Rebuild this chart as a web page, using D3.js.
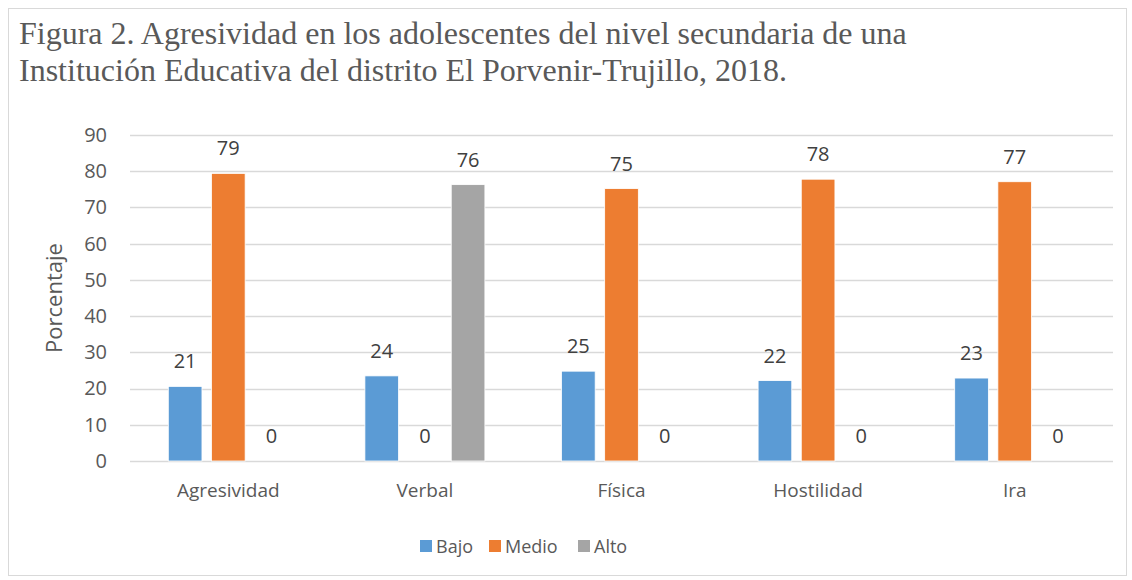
<!DOCTYPE html>
<html>
<head>
<meta charset="utf-8">
<script src="https://cdnjs.cloudflare.com/ajax/libs/d3/7.8.5/d3.min.js"></script>
<style>
  body { margin: 0; background: #fff; }
  text { font-family: "Open Sans", "Noto Sans", sans-serif; fill: #595959; }
</style>
</head>
<body>
<div id="chart"></div>
<script>
// chart data
var categories = ["Agresividad", "Verbal", "Física", "Hostilidad", "Ira"];
var seriesNames = ["Bajo", "Medio", "Alto"];
var bajo = [20.6, 23.5, 24.8, 22.2, 22.9];
var medio = [79.4, 0, 75.2, 77.8, 77.1];
var alto = [0, 76.3, 0, 0, 0];
var yTicks = [0, 10, 20, 30, 40, 50, 60, 70, 80, 90];
var colors = ["#5b9bd5", "#ed7d31", "#a5a5a5"];

var svgWidth = 1132;
var svgHeight = 580;

var margin = { top: 135, right: 19, bottom: 119, left: 130 };
var width = svgWidth - margin.left - margin.right;
var height = svgHeight - margin.top - margin.bottom;

var svg = d3.select("#chart")
  .append("svg")
  .attr("width", svgWidth)
  .attr("height", svgHeight);

// outer frame
svg.append("rect")
  .attr("x", 8.5).attr("y", 8.5)
  .attr("width", svgWidth - 14).attr("height", svgHeight - 13)
  .attr("fill", "#fff")
  .attr("stroke", "#d9d9d9");

// title
var title = svg.append("text")
  .style("font-family", "'Liberation Serif', 'Times New Roman', serif")
  .attr("font-size", 32);
title.append("tspan").attr("x", 19).attr("y", 44)
  .text("Figura 2. Agresividad en los adolescentes del nivel secundaria de una");
title.append("tspan").attr("x", 19).attr("y", 81)
  .text("Institución Educativa del distrito El Porvenir-Trujillo, 2018.");

var chartGroup = svg.append("g")
  .attr("transform", `translate(${margin.left}, ${margin.top})`);

// scales
var x0 = d3.scaleBand()
  .domain(categories)
  .range([0, width]);

var x1 = d3.scaleBand()
  .domain(seriesNames)
  .range([0, 120])
  .paddingInner(0.22);

var yLinearScale = d3.scaleLinear()
  .domain([0, 90])
  .range([height, 0]);

// gridlines
chartGroup.append("g")
  .selectAll("line")
  .data(yTicks)
  .enter()
  .append("line")
  .attr("x1", 0)
  .attr("x2", width)
  .attr("y1", d => Math.round(yLinearScale(d)) + 0.5)
  .attr("y2", d => Math.round(yLinearScale(d)) + 0.5)
  .attr("stroke", "#d9d9d9")
  .attr("stroke-width", 1.3);

// y axis labels
var leftAxis = d3.axisLeft(yLinearScale).tickValues(yTicks).tickSize(0).tickPadding(23);
var yAxis = chartGroup.append("g").call(leftAxis);
yAxis.select(".domain").remove();
yAxis.selectAll("text")
  .attr("font-size", 20)
  .attr("fill", "#595959")
  .style("font-family", "'Open Sans', sans-serif");

// x axis labels
var bottomAxis = d3.axisBottom(x0).tickSize(0).tickPadding(23);
var xAxis = chartGroup.append("g")
  .attr("transform", `translate(0, ${height})`)
  .call(bottomAxis);
xAxis.select(".domain").remove();
xAxis.selectAll("text")
  .attr("font-size", 19)
  .attr("fill", "#595959")
  .style("font-family", "'Open Sans', sans-serif");

// bars
var allSeries = [bajo, medio, alto];
var rows = [];
categories.forEach(function(cat, i) {
  seriesNames.forEach(function(s, j) {
    rows.push({ cat: cat, series: s, value: allSeries[j][i], color: colors[j] });
  });
});

var groupOffset = (x0.bandwidth() - 120) / 2;

chartGroup.selectAll(".bar")
  .data(rows)
  .enter()
  .append("rect")
  .attr("class", "bar")
  .attr("x", d => x0(d.cat) + groupOffset + x1(d.series))
  .attr("y", d => yLinearScale(d.value))
  .attr("width", x1.bandwidth())
  .attr("height", d => height - yLinearScale(d.value))
  .attr("fill", d => d.color)
  .attr("stroke", "#fff")
  .attr("stroke-width", 0.8);

// value labels
chartGroup.selectAll(".val")
  .data(rows)
  .enter()
  .append("text")
  .attr("class", "val")
  .attr("x", d => x0(d.cat) + groupOffset + x1(d.series) + x1.bandwidth() / 2)
  .attr("y", d => yLinearScale(d.value) - 18)
  .attr("text-anchor", "middle")
  .attr("font-size", 20)
  .style("fill", "#404040")
  .text(d => d3.format(".0f")(d.value));

// y axis title
chartGroup.append("text")
  .attr("transform", "rotate(-90)")
  .attr("x", -height / 2)
  .attr("y", -68)
  .attr("text-anchor", "middle")
  .attr("font-size", 22)
  .text("Porcentaje");

// legend
var legendX = [420, 489, 578];
var legend = svg.append("g");
seriesNames.forEach(function(s, i) {
  legend.append("rect")
    .attr("x", legendX[i])
    .attr("y", 540)
    .attr("width", 12)
    .attr("height", 12)
    .attr("fill", colors[i]);
  legend.append("text")
    .attr("x", legendX[i] + 16)
    .attr("y", 553)
    .attr("font-size", 18)
    .text(s);
});
</script>
</body>
</html>
